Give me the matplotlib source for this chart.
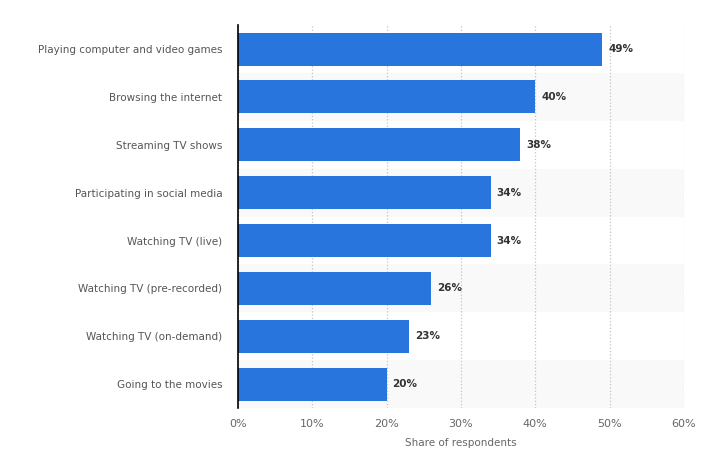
import matplotlib.pyplot as plt

categories = ["Playing computer and video games", "Browsing the internet", "Streaming TV shows",
              "Participating in social media", "Watching TV (live)", "Watching TV (pre-recorded)",
              "Watching TV (on-demand)", "Going to the movies"]
values = [49, 40, 38, 34, 34, 26, 23, 20]
xticks = [0, 10, 20, 30, 40, 50, 60]

fig = plt.figure(figsize=(7.14, 4.74), dpi=100)
ax = fig.add_axes([0.333, 0.139, 0.625, 0.808])

n = len(categories)
ys = list(range(n))
for i in ys:
    if i % 2 == 1:
        ax.axhspan(i - 0.5, i + 0.5, color="#f9f9f9", zorder=0, lw=0)

ax.barh(ys, values, height=0.69, color="#2876dd", zorder=3)
for y, v in zip(ys, values):
    ax.text(v + 0.8, y, f"{v}%", va="center", ha="left", fontsize=7.5, fontweight="bold", color="#333333")

ax.set_ylim(n - 0.5, -0.5)
ax.set_xlim(0, 60)
ax.set_yticks(ys)
ax.set_yticklabels(categories, fontsize=7.5, color="#555555")
ax.set_xticks(xticks)
ax.set_xticklabels([f"{t}%" for t in xticks], fontsize=8, color="#666666")
ax.set_xlabel("Share of respondents", fontsize=7.5, color="#666666", labelpad=6)
ax.tick_params(length=0, pad=8)
ax.tick_params(axis="y", pad=11)
ax.grid(axis="x", linestyle=":", color="#c4c4c4", linewidth=0.9, zorder=1)
for s in ["top", "right", "bottom"]:
    ax.spines[s].set_visible(False)
ax.spines["left"].set_color("#000000")
ax.spines["left"].set_linewidth(1.2)
ax.spines["left"].set_zorder(4)

fig.savefig("out.png", dpi=100)
